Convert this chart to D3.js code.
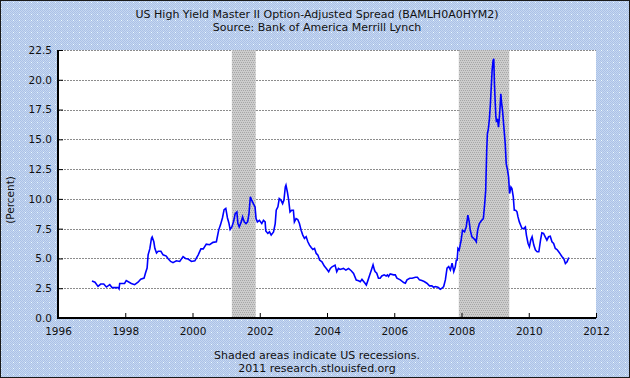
<!DOCTYPE html>
<html><head><meta charset="utf-8">
<script src="https://cdn.jsdelivr.net/npm/d3@7"></script>
<style>body{margin:0;padding:0;}svg{display:block;}</style>
</head><body>
<svg id="chart" width="630" height="378"></svg>
<script>
const titleLines = ["US High Yield Master II Option-Adjusted Spread (BAMLH0A0HYM2)", "Source: Bank of America Merrill Lynch"];
const footerLines = ["Shaded areas indicate US recessions.", "2011 research.stlouisfed.org"];
const yLabel = "(Percent)";
const xTicks = [1996, 1998, 2000, 2002, 2004, 2006, 2008, 2010, 2012];
const yTicks = [0, 2.5, 5, 7.5, 10, 12.5, 15, 17.5, 20, 22.5];
const recessions = [[2001.17, 2001.88], [2007.92, 2009.42]];
const years = [1997.01,1997.10,1997.19,1997.27,1997.36,1997.44,1997.54,1997.61,1997.79,1997.815,1997.835,1997.98,
1998.03,1998.18,1998.28,1998.38,1998.46,1998.56,1998.60,1998.65,1998.68,1998.73,1998.78,1998.80,1998.85,1998.88,1998.93,1998.98,
1999.06,1999.125,1999.22,1999.27,1999.35,1999.42,1999.52,1999.62,1999.72,1999.79,1999.87,1999.97,
2000.07,2000.17,2000.25,2000.32,2000.41,2000.51,2000.61,2000.71,2000.78,2000.83,2000.89,2000.94,2000.99,
2001.04,2001.08,2001.12,2001.17,2001.22,2001.27,2001.32,2001.35,2001.39,2001.45,2001.49,2001.54,2001.59,2001.64,2001.68,2001.72,2001.76,2001.81,2001.86,2001.89,2001.93,2001.99,
2002.06,2002.11,2002.16,2002.18,2002.24,2002.29,2002.34,2002.41,2002.46,2002.49,2002.54,2002.58,2002.63,2002.68,2002.72,2002.76,2002.78,2002.82,2002.86,2002.90,2002.95,
2003.00,2003.03,2003.08,2003.13,2003.18,2003.23,2003.28,2003.33,2003.38,2003.43,2003.48,2003.53,2003.58,2003.63,2003.68,2003.73,2003.78,2003.85,2003.92,2003.98,
2004.05,2004.10,2004.15,2004.24,2004.29,2004.34,2004.39,2004.49,2004.56,2004.64,2004.72,2004.79,2004.87,2004.94,2004.99,
2005.04,2005.12,2005.17,2005.22,2005.27,2005.32,2005.37,2005.41,2005.43,2005.48,2005.53,2005.58,2005.63,2005.70,2005.76,2005.80,2005.83,2005.88,2005.98,
2006.03,2006.08,2006.18,2006.28,2006.33,2006.38,2006.46,2006.53,2006.63,2006.69,2006.75,2006.82,2006.89,2006.97,
2007.05,2007.12,2007.17,2007.22,2007.30,2007.37,2007.42,2007.47,2007.52,2007.57,2007.62,2007.67,2007.72,2007.77,2007.815,2007.845,2007.87,2007.895,2007.93,2007.99,
2008.03,2008.09,2008.14,2008.19,2008.23,2008.26,2008.31,2008.36,2008.41,2008.44,2008.48,2008.53,2008.59,2008.65,2008.69,2008.72,2008.75,2008.77,2008.80,2008.83,2008.86,2008.89,2008.91,2008.94,2008.96,2008.98,
2009.00,2009.02,2009.04,2009.07,2009.10,2009.12,2009.15,2009.17,2009.19,2009.22,2009.26,2009.30,2009.33,2009.37,2009.40,2009.43,2009.47,2009.50,2009.54,2009.57,2009.61,2009.65,2009.68,2009.72,2009.76,2009.80,2009.85,2009.90,2009.93,2009.98,
2010.02,2010.06,2010.10,2010.15,2010.20,2010.25,2010.30,2010.35,2010.39,2010.44,2010.49,2010.54,2010.59,2010.64,2010.69,2010.74,2010.79,2010.84,2010.89,2010.94,2010.99,
2011.04,2011.09,2011.14,2011.19];
const spread = [3.1,3.0,2.65,2.85,2.85,2.6,2.8,2.55,2.55,2.45,2.9,2.9,
3.15,2.9,2.8,3.0,3.25,3.35,3.75,4.2,5.3,5.8,6.7,6.8,6.4,5.85,5.45,5.6,
5.6,5.3,5.2,5.0,4.75,4.65,4.8,4.75,5.15,5.0,4.95,4.75,
4.8,5.3,5.8,5.8,6.2,6.15,6.35,6.4,7.4,7.8,8.4,9.1,9.2,
8.4,8.0,7.43,7.65,8.07,8.77,8.9,7.93,7.65,8.07,8.5,8.07,7.93,8.07,8.77,10.17,9.9,9.6,9.33,8.35,8.07,8.2,
7.93,8.2,8.07,7.3,7.1,7.23,6.96,7.23,7.93,9.05,9.33,10.03,9.9,9.6,9.9,11.0,11.15,10.6,9.9,8.9,9.05,
9.05,8.07,8.35,8.27,7.93,7.37,6.96,6.68,6.82,6.4,6.12,5.92,5.75,5.84,5.42,5.28,4.86,4.72,4.36,4.16,
3.88,4.16,4.3,4.44,3.88,4.16,4.08,4.16,4.02,4.16,3.97,3.74,3.18,3.13,3.04,
3.24,2.96,2.77,3.18,3.6,4.02,4.46,4.04,3.9,3.76,3.34,3.34,3.53,3.62,3.53,3.62,3.48,3.7,3.62,
3.62,3.34,3.2,2.97,2.92,3.2,3.34,3.34,3.42,3.42,3.2,3.14,3.06,2.92,
2.7,2.7,2.58,2.64,2.58,2.42,2.5,2.64,3.2,4.18,4.32,4.04,4.6,3.9,4.3,4.86,4.87,5.84,5.7,6.54,
7.37,7.23,7.65,8.63,8.07,7.37,6.82,6.68,6.54,6.4,7.37,7.93,8.16,8.35,9.6,10.73,14.08,15.47,15.9,16.73,17.99,19.66,20.78,21.62,21.76,19.66,
18.27,17.01,16.45,16.73,16.03,16.6,17.85,18.83,18.13,17.43,16.03,14.64,12.96,12.4,11.84,10.45,11.0,10.87,10.17,9.05,9.05,8.91,8.49,8.07,7.79,7.51,7.51,7.65,6.96,6.26,
5.98,6.54,6.82,6.12,5.7,5.56,5.56,6.54,7.15,7.1,6.82,6.54,6.82,6.87,6.4,6.26,5.84,5.75,5.56,5.36,5.14,
5.0,4.58,4.72,5.08];

const svg = d3.select("#chart");
const W = 630, H = 378;
const m = {left: 58, right: 34, top: 50, bottom: 60};
const font = "'DejaVu Sans', Verdana, sans-serif";
const defs = svg.append("defs");
// background pattern
const bg = defs.append("pattern").attr("id","bgpat").attr("width",6).attr("height",6).attr("patternUnits","userSpaceOnUse");
bg.append("rect").attr("width",6).attr("height",6).attr("fill","#c6d7f1");
for (let i=0;i<6;i++) for (let j=0;j<6;j++) if ((i+j)%2===0) bg.append("rect").attr("x",i).attr("y",j).attr("width",1).attr("height",1).attr("fill","#abc2e7");
bg.append("rect").attr("x",1).attr("y",2).attr("width",1).attr("height",1).attr("fill","#eefcff");
// recession pattern
const rp = defs.append("pattern").attr("id","recpat").attr("width",4).attr("height",4).attr("patternUnits","userSpaceOnUse");
rp.append("rect").attr("width",4).attr("height",4).attr("fill","#cccccc");
[[0,0],[2,0],[1,2],[3,2]].forEach(([a,b])=>rp.append("rect").attr("x",a).attr("y",b).attr("width",1).attr("height",1).attr("fill","#a6a6a6"));

svg.append("rect").attr("x",0).attr("y",0).attr("width",W).attr("height",H).attr("fill","url(#bgpat)");
svg.append("rect").attr("x",0.5).attr("y",0.5).attr("width",W-1).attr("height",H-1).attr("fill","none").attr("stroke","#1a1a1a").attr("stroke-width",1);

const x = d3.scaleLinear().domain([1996, 2012]).range([m.left, W - m.right]);
const y = d3.scaleLinear().domain([0, 22.5]).range([H - m.bottom, m.top]);

svg.append("rect").attr("x", x(1996)).attr("y", y(22.5)).attr("width", x(2012)-x(1996)).attr("height", y(0)-y(22.5)).attr("fill","#ffffff");

// gridlines
svg.append("g").selectAll("line").data(yTicks.filter(d=>d>0)).join("line")
  .attr("x1", x(1996)).attr("x2", x(2012))
  .attr("y1", d=>Math.round(y(d))+0.5).attr("y2", d=>Math.round(y(d))+0.5)
  .attr("stroke","#8c8c8c").attr("stroke-width",1).attr("stroke-dasharray","2,1");

// recessions
svg.append("g").selectAll("rect").data(recessions).join("rect")
  .attr("x", d=>x(d[0])).attr("width", d=>x(d[1])-x(d[0]))
  .attr("y", y(22.5)).attr("height", y(0)-y(22.5)).attr("fill","url(#recpat)");

// line
const pts = years.map((yr,i)=>[yr, spread[i]]);
svg.append("path").datum(pts)
  .attr("fill","none").attr("stroke","#0000ff").attr("stroke-width",1.6).attr("stroke-linejoin","miter")
  .attr("d", d3.line().x(d=>x(d[0])).y(d=>y(d[1])));

// axes
const yAxis = d3.axisRight(y).tickValues(yTicks).tickSize(5).tickFormat(d3.format(".1f"));
const ga = svg.append("g").attr("transform",`translate(${x(1996)},0)`).call(yAxis);
ga.select(".domain").remove();
ga.selectAll("line").attr("stroke","#000");
ga.selectAll("text").attr("x",-6).attr("text-anchor","end").attr("fill","#111")
  .style("font-family",font).style("font-size","10.5px");

const xAxis = d3.axisTop(x).tickValues(xTicks).tickSize(5).tickFormat(d3.format("d"));
const gx = svg.append("g").attr("transform",`translate(0,${y(0)})`).call(xAxis);
gx.select(".domain").remove();
gx.selectAll("line").attr("stroke","#000");
gx.selectAll("text").attr("y",17).attr("dy","0").attr("fill","#111")
  .style("font-family",font).style("font-size","10.5px");

svg.append("line").attr("x1",x(1996)).attr("x2",x(1996)).attr("y1",y(22.5)).attr("y2",y(0)+1).attr("stroke","#000").attr("stroke-width",2);
svg.append("line").attr("x1",x(1996)-1).attr("x2",x(2012)).attr("y1",y(0)).attr("y2",y(0)).attr("stroke","#000").attr("stroke-width",2);

svg.append("g").selectAll("text").data(titleLines).join("text")
  .attr("x", 317).attr("y",(d,i)=>18+i*13).attr("text-anchor","middle")
  .style("font-family",font).style("font-size","11px").attr("fill","#111").text(d=>d);
svg.append("g").selectAll("text").data(footerLines).join("text")
  .attr("x", 317).attr("y",(d,i)=>359+i*13).attr("text-anchor","middle")
  .style("font-family",font).style("font-size","11px").attr("fill","#111").text(d=>d);
svg.append("text").attr("transform","translate(14,200) rotate(-90)").attr("text-anchor","middle")
  .style("font-family",font).style("font-size","10.5px").attr("fill","#111").text(yLabel);
</script>
</body></html>
